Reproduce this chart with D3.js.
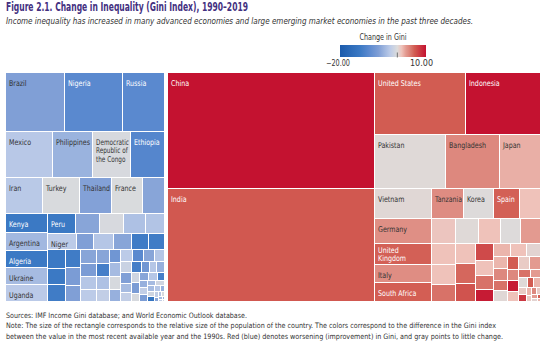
<!DOCTYPE html>
<html lang="en">
<head>
<meta charset="UTF-8">
<title>Change in Inequality (Gini Index), 1990–2019</title>
<script src="https://cdn.jsdelivr.net/npm/d3@7"></script>
<style>
  body { margin: 0; background: #fff; }
  svg { display: block; font-family: "DejaVu Sans Condensed", "Liberation Sans Narrow", "Arial Narrow", sans-serif; }
  .title { font-weight: bold; font-size: 11.5px; fill: #43307f; }
  .subtitle { font-style: italic; font-size: 8.6px; fill: #333; }
  .legend-text { font-size: 8px; fill: #333; }
  .note { font-size: 7.4px; fill: #333; }
  .cell-label { font-size: 8px; }
  rect.cell { shape-rendering: crispEdges; }
</style>
</head>
<body>
<svg width="540" height="354"></svg>
<script>
// population (millions) read off the rectangle areas, Gini change
// null name = cell without a label

// countries where Gini fell (blue panel)
const downNames = ["Brazil", "Nigeria", "Russia",
  "Mexico", "Philippines", "Democratic Republic of the Congo", "Ethiopia",
  "Iran", "Turkey", "Thailand", "France", null,
  "Kenya", "Argentina", "Algeria", "Ukraine", "Uganda",
  "Peru", null, null, null, null,
  "Niger", null, null, null, null, null];
const downPop = [205, 201, 146, 128, 107, 101, 93, 81, 80, 70, 67, 48,
  46, 44, 44, 42, 42, 32, 28, 28, 26, 22, 27, 16, 18, 17, 16, 15];
const downGini = [-6.5, -10, -10, -2.8, -4.8, -0.4, -10.5, -2.7, -0.3, -6.3, -0.2, -6,
  -13, -4.3, -13, -4, -2.6, -13, -6, -0.4, -3.5, -3.2, -2.5, -6.5, -3, -6, -12.5, -12.5];
// the many small unlabelled blue cells
const downRestPop = [20, 18, 18, 16, 15, 14, 13, 12, 12, 11, 11, 10, 10, 9, 9, 9, 9, 8, 8, 8, 8,
  7, 7, 7, 6, 6, 6, 5, 5, 5, 5, 5, 4, 4, 4, 3.5, 3, 3, 3, 3, 3, 2.5, 2, 2, 2, 1.5, 1.5,
  1, 1, 0.8, 0.6, 0.5, 0.4, 0.3];
const downRestGini = [-13, -13, -12.5, -12.5, -7, -6.5, -6, -7, -3, -2.5, -6, -12, -3.5, -2, -8, -4, -0.5,
  -5, -2.5, -10, -6, -3, -1.5, -6.5, -4, -2, -12, -8, -3, -5, -1, -7, -0.5, -6, -3, -12, -5, -2, -7, -4,
  -1, -4, -1, -14, -3, -5, -2, -6, -3, -0.5, -4, -2, -5, -1];

// countries where Gini rose (red panel)
const upNames = ["China", "India", "United States", "Indonesia",
  "Pakistan", "Bangladesh", "Japan",
  "Vietnam", "Germany", "United Kingdom", "Italy", "South Africa",
  "Tanzania", "Korea", "Spain", null,
  null, null, null, null, null];
const upPop = [1398, 1366, 329, 270, 222, 168, 130, 100, 84, 70, 61, 63,
  55, 53, 46, 37, 35, 34, 31, 30, 29];
const upGini = [10, 6.2, 6, 10, 0.2, 4, 2.2, 0.3, 3.6, 5.8, 3.7, 5.9,
  3.8, 0.1, 5.8, 1.5, 1.3, 0.2, 1.5, 0.1, 3];
const upRestPop = [29, 27, 24, 24, 23, 21, 18, 16, 14, 13, 13, 12, 11, 10, 10, 9, 9, 8, 8, 8,
  7, 7, 6, 6, 5, 5, 4, 4, 3, 3, 2.5, 2, 2, 1.5, 1, 1, 0.8, 0.5];
const upRestGini = [1.5, 1.5, 5, 1.5, 5.5, 6.5, 7, 1.5, 5, 9.5, 2, 1.5, 0.5, 2, 4, 5, 0.3, 6, 1, 3,
  4, 9.5, 1.5, 5, 3, 0.2, 6, 2, 1, 8, 2, 1, 4, 1, 3, 0.5, 6, 2];

// labels shown on more than one line
const labelLines = {
  "Democratic Republic of the Congo": ["Democratic", "Republic of", "the Congo"],
  "United Kingdom": ["United", "Kingdom"]
};

// how the first cells of each panel are stacked (direction, count); the rest is squarified
const downStrips = [["row", 3], ["row", 4], ["row", 5], ["col", 5], ["row", 5], ["row", 6]];
const upStrips = [["col", 2], ["row", 2], ["row", 3], ["col", 5], ["row", 4], ["row", 5]];

const legendTicks = [-20, 10];

// colours
const colorDomain = [-20, -13, -10, -6.5, -4.5, -2.5, 0, 1.5, 3, 4, 6, 10];
const colorRange = ["#1b5bac", "#3b79c4", "#5a89cf", "#809fd6", "#9fb6df", "#bccbe8", "#dcdcdc",
  "#efc2ba", "#e39a90", "#dd887e", "#d25c52", "#c41230"];
const color = d3.scaleLinear().domain(colorDomain).range(colorRange).clamp(true);

const svg = d3.select("svg");

// titles (squeezed to the condensed width of the original)
svg.append("text").attr("class", "title").attr("x", 6).attr("y", 11)
  .attr("textLength", 242).attr("lengthAdjust", "spacingAndGlyphs")
  .text("Figure 2.1. Change in Inequality (Gini Index), 1990–2019");
svg.append("text").attr("class", "subtitle").attr("x", 6).attr("y", 24)
  .attr("textLength", 467).attr("lengthAdjust", "spacingAndGlyphs")
  .text("Income inequality has increased in many advanced economies and large emerging market economies in the past three decades.");

// legend
const lx = d3.scaleLinear().domain([-20, 10]).range([340, 426]);
const grad = svg.append("defs").append("linearGradient").attr("id", "gini-grad");
grad.selectAll("stop").data(colorDomain).join("stop")
  .attr("offset", d => (lx(d) - 340) / 86)
  .attr("stop-color", d => color(d));
svg.append("text").attr("class", "legend-text").attr("x", 383).attr("y", 39.5)
  .attr("text-anchor", "middle").attr("textLength", 47).attr("lengthAdjust", "spacingAndGlyphs")
  .text("Change in Gini");
svg.append("rect").attr("x", lx(-20)).attr("y", 45).attr("width", lx(10) - lx(-20)).attr("height", 12)
  .attr("fill", "url(#gini-grad)");
svg.append("line").attr("x1", lx(0)).attr("x2", lx(0)).attr("y1", 52.5).attr("y2", 57.5)
  .attr("stroke", "#555").attr("stroke-width", 0.8);
svg.selectAll(".legend-tick").data(legendTicks).join("text")
  .attr("class", "legend-text legend-tick")
  .attr("x", (d, i) => lx(d) + (i ? -4.5 : -2))
  .attr("y", 65.5).attr("text-anchor", "middle")
  .attr("textLength", (d, i) => i ? 23 : 24).attr("lengthAdjust", "spacingAndGlyphs")
  .text(d => d3.format(".2f")(d).replace("-", "\u2212"));

// treemap
function leaves(names, pop, gini, restPop, restGini) {
  const a = pop.map((p, i) => ({name: names[i], pop: p, gini: gini[i]}));
  const b = restPop.map((p, i) => ({name: null, pop: p, gini: restGini[i]}));
  return a.concat(b);
}
const data = {name: "root", children: [
  {name: "down", strips: downStrips, children: leaves(downNames, downPop, downGini, downRestPop, downRestGini)},
  {name: "up", strips: upStrips, children: leaves(upNames, upPop, upGini, upRestPop, upRestGini)}
]};

const squarify = d3.treemapSquarify.ratio(1);
function tile(node, x0, y0, x1, y1) {
  if (node.depth === 0) return d3.treemapDice(node, x0, y0, x1, y1);
  const kids = node.children;
  let rest = node.value, i = 0;
  node.data.strips.forEach(([dir, n]) => {
    const part = {children: kids.slice(i, i + n)};
    part.value = d3.sum(part.children, c => c.value);
    if (dir === "row") {
      const y = y0 + (y1 - y0) * part.value / rest;
      d3.treemapDice(part, x0, y0, x1, y);
      y0 = y;
    } else {
      const x = x0 + (x1 - x0) * part.value / rest;
      d3.treemapSlice(part, x0, y0, x, y1);
      x0 = x;
    }
    rest -= part.value;
    i += n;
  });
  squarify({children: kids.slice(i), value: rest}, x0, y0, x1, y1);
}

const root = d3.hierarchy(data).sum(d => d.children ? 0 : d.pop);
d3.treemap()
  .size([534, 228])
  .tile(tile)
  .paddingInner(d => d.depth === 0 ? 4 : 1)
  .round(true)(root);

const g = svg.append("g").attr("transform", "translate(6,73)");
const defs = svg.select("defs");
const cell = g.selectAll("g.leaf").data(root.leaves()).join("g").attr("class", "leaf");

cell.append("rect").attr("class", "cell")
  .attr("x", d => d.x0).attr("y", d => d.y0)
  .attr("width", d => Math.max(0, d.x1 - d.x0))
  .attr("height", d => Math.max(0, d.y1 - d.y0))
  .attr("fill", d => color(d.data.gini));

// labels, top-left, narrowed like the condensed original and clipped to the cell
const lineGap = 8.6;
cell.filter(d => d.data.name).each(function(d, i) {
  const w = d.x1 - d.x0, h = d.y1 - d.y0;
  defs.append("clipPath").attr("id", "clip" + i).append("rect")
    .attr("x", d.x0).attr("y", d.y0).attr("width", w).attr("height", h);
  const fill = color(d.data.gini);
  const lines = labelLines[d.data.name] || [d.data.name];
  // lift multi-line labels that would run out of a short cell
  const top = Math.min(12.5, h - (lines.length - 1) * lineGap - 2.5);
  const text = d3.select(this).append("g").attr("clip-path", `url(#clip${i})`)
    .append("text").attr("class", "cell-label")
    .attr("fill", d3.lab(fill).l < 60 ? "#fff" : "#333");
  text.selectAll("tspan").data(lines).join("tspan")
    .attr("x", 0).attr("y", (s, k) => k * lineGap)
    .text(s => s);
  const len = d3.max(text.selectAll("tspan").nodes(), n => n.getComputedTextLength());
  const k = Math.min(0.88, (w - 4) / len);
  text.attr("transform", `translate(${d.x0 + 3},${d.y0 + top}) scale(${k},1)`);
});

// notes
const notes = [
  "Sources: IMF Income Gini database; and World Economic Outlook database.",
  "Note: The size of the rectangle corresponds to the relative size of the population of the country. The colors correspond to the difference in the Gini index",
  "between the value in the most recent available year and the 1990s. Red (blue) denotes worsening (improvement) in Gini, and gray points to little change."
];
const noteWidths = [241, 490, 497];
svg.selectAll(".note").data(notes).join("text").attr("class", "note")
  .attr("x", 6).attr("y", (d, i) => [317.5, 328, 339][i])
  .attr("textLength", (d, i) => noteWidths[i]).attr("lengthAdjust", "spacingAndGlyphs")
  .text(d => d);
</script>
</body>
</html>
